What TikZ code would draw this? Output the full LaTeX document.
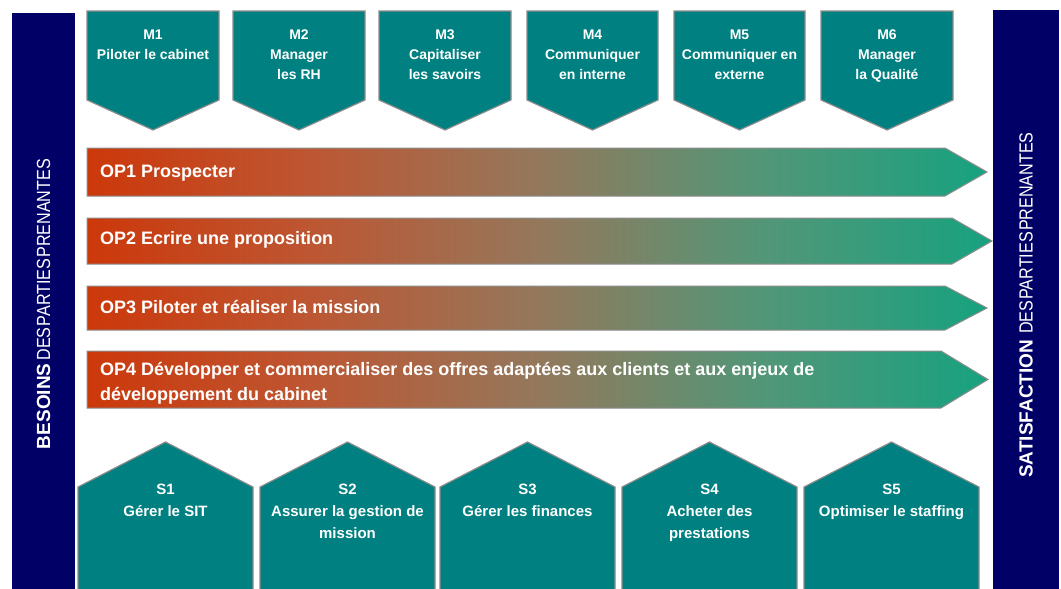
\documentclass[tikz,border=0pt]{standalone}
\usepackage{fontspec}
\setmainfont{Liberation Sans}
\newfontfamily\condfont[FakeStretch=0.85]{Liberation Sans}
\definecolor{navyc}{RGB}{0,0,102}
\definecolor{tealc}{RGB}{0,128,128}
\definecolor{grayc}{RGB}{140,140,140}
\pgfdeclarehorizontalshading{opshade}{100bp}{rgb(0bp)=(.80,.22,.04); rgb(25bp)=(.80,.22,.04); rgb(37.5bp)=(.74,.34,.20); rgb(50bp)=(.58,.47,.36); rgb(62.5bp)=(.32,.59,.47); rgb(75bp)=(.09,.635,.50); rgb(100bp)=(.09,.635,.50)}
\begin{document}
\begin{tikzpicture}[x=1pt,y=-1pt,
  proc/.style={fill=tealc, draw=grayc, line width=1.2pt, line join=miter},
  oparrow/.style={shading=opshade, draw=grayc, line width=1pt},
  mtext/.style={text=white, font=\fontsize{14}{20}\selectfont\bfseries, align=center, inner sep=0pt, anchor=north},
  stext/.style={text=white, font=\fontsize{15}{22}\selectfont\bfseries, align=center, inner sep=0pt, anchor=north},
  optext/.style={text=white, font=\fontsize{18}{25}\selectfont\bfseries, align=left, inner sep=0pt, anchor=base west},
  sidetext/.style={text=white, rotate=90, inner sep=0pt}]
\useasboundingbox (0,0) rectangle (1061,589);
% side bars
\fill[navyc] (12,13) rectangle (75,595);
\fill[navyc] (993,10) rectangle (1059,595);
\node[sidetext] (besoins) at (43.5,304) {\fontsize{19}{19}\selectfont\bfseries BESOINS\hspace{3pt}\condfont\mdseries DES\hspace{1pt}PARTIES\hspace{1pt}PRENANTES};
\node[sidetext] (satisf) at (1026,305) {\fontsize{19}{19}\selectfont\bfseries SATISFACTION\hspace{6pt}\condfont\mdseries DES\hspace{1pt}PARTIES\hspace{1pt}PRENANTES};
% management processes
\foreach \a/\b in {87/219, 233/365, 379/511, 527/658, 674/805, 821/953}{
  \path[proc] (\a,11) -- (\b,11) -- (\b,100) -- ({(\a+\b)/2},130) -- (\a,100) -- cycle;
}
\node[mtext] (m1) at (153,30) {M1\\Piloter le cabinet};
\node[mtext] (m2) at (299,30) {M2\\Manager\\les RH};
\node[mtext] (m3) at (445,30) {M3\\Capitaliser\\les savoirs};
\node[mtext] (m4) at (592.5,30) {M4\\Communiquer\\en interne};
\node[mtext] (m5) at (739.5,30) {M5\\Communiquer en\\externe};
\node[mtext] (m6) at (887,30) {M6\\Manager\\la Qualité};
% operational processes
\foreach \t/\bt/\e/\p in {148/196/945/987, 218/264/952/992, 286/330/945/987, 351/408/941/988}{
  \shade[oparrow] (87,\t) -- (\e,\t) -- (\p,{(\t+\bt)/2}) -- (\e,\bt) -- (87,\bt) -- cycle;
}
\node[optext] (op1) at (100,177.5) {OP1 Prospecter};
\node[optext] (op2) at (100,244.5) {OP2 Ecrire une proposition};
\node[optext] (op3) at (100,313.5) {OP3 Piloter et réaliser la mission};
\node[optext, anchor=north west] (op4) at (100,362.5) {OP4 Développer et commercialiser des offres adaptées aux clients et aux enjeux de\\développement du cabinet};
% support processes
\foreach \a/\b in {78/253, 260/435, 440/615, 622/797, 804/979}{
  \path[proc] (\a,595) -- (\a,487) -- ({(\a+\b)/2},442) -- (\b,487) -- (\b,595);
}
\node[stext] (s1) at (165.5,483.5) {S1\\Gérer le SIT};
\node[stext] (s2) at (347.5,483.5) {S2\\Assurer la gestion de\\mission};
\node[stext] (s3) at (527.5,483.5) {S3\\Gérer les finances};
\node[stext] (s4) at (709.5,483.5) {S4\\Acheter des\\prestations};
\node[stext] (s5) at (891.5,483.5) {S5\\Optimiser le staffing};
\end{tikzpicture}
\end{document}
